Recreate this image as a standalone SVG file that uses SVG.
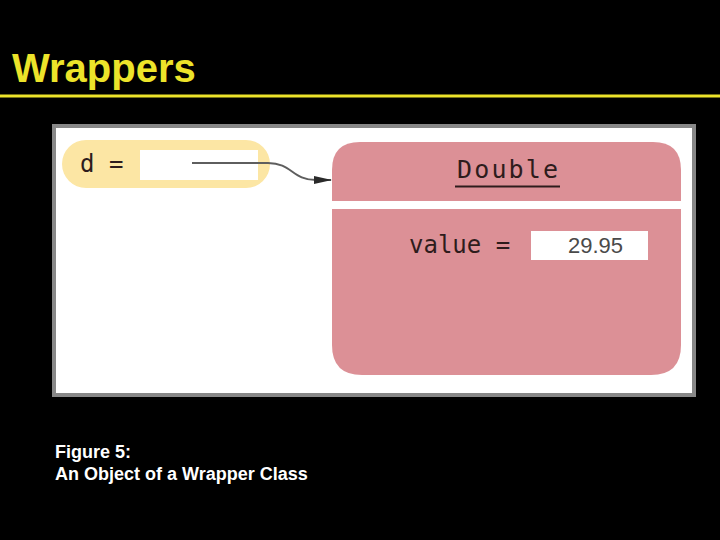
<svg xmlns="http://www.w3.org/2000/svg" width="720" height="540" viewBox="0 0 720 540">
<defs>
<style>
.title{font-family:"Liberation Sans",Arial,sans-serif;font-weight:bold;font-size:40px;fill:#ece32a}
.cap{font-family:"Liberation Sans",Arial,sans-serif;font-weight:bold;font-size:18px;fill:#ffffff}
.mono{font-family:"DejaVu Sans Mono","Liberation Mono",monospace;fill:#2e1c1c}
.num{font-family:"Liberation Sans",Arial,sans-serif;font-size:22px;fill:#4a4a4a}
.pink{fill:#dc9096}
.slot{fill:#ffffff}
.conn{fill:none;stroke:#5e5e5e;stroke-width:2}
</style>
<marker id="arr" markerWidth="18" markerHeight="10" refX="17" refY="5" orient="auto" markerUnits="userSpaceOnUse">
<polygon points="0,1 18,5 0,9" fill="#2a2a2a"/>
</marker>
</defs>
<rect x="0" y="0" width="720" height="540" fill="#000000"/>
<g id="title">
<text class="title" x="12" y="82">Wrappers</text>
<rect x="0" y="94.5" width="720" height="3" fill="#ece32a"/>
</g>
<g id="frame">
<rect x="54" y="126" width="640" height="269" fill="#ffffff" stroke="#888888" stroke-width="4"/>
</g>
<g id="var-d">
<rect x="62" y="140" width="208" height="48" rx="24" ry="24" fill="#fce6a4"/>
<text class="mono" x="80" y="172" font-size="24">d =</text>
<rect class="slot" x="140" y="150" width="118" height="30"/>
</g>
<g id="double-object">
<path class="pink" d="M332,201 V170 Q332,142 360,142 H653 Q681,142 681,170 V201 Z"/>
<path class="pink" d="M332,209 H681 V345 Q681,375 651,375 H362 Q332,375 332,345 Z"/>
<text class="mono" x="457" y="178" font-size="25" textLength="101" lengthAdjust="spacing">Double</text>
<rect x="455" y="185.5" width="105" height="2" fill="#2e1c1c"/>
<text class="mono" x="409" y="253" font-size="24">value =</text>
<rect class="slot" x="531" y="231" width="117" height="29"/>
<text class="num" x="623" y="253" text-anchor="end">29.95</text>
</g>
<g id="connectors">
<path class="conn" d="M192,163 H268 C292,163 292,180 316,180 H331" marker-end="url(#arr)"/>
</g>
<g id="caption">
<text class="cap" x="55" y="458">Figure 5:</text>
<text class="cap" x="55" y="480">An Object of a Wrapper Class</text>
</g>
</svg>
